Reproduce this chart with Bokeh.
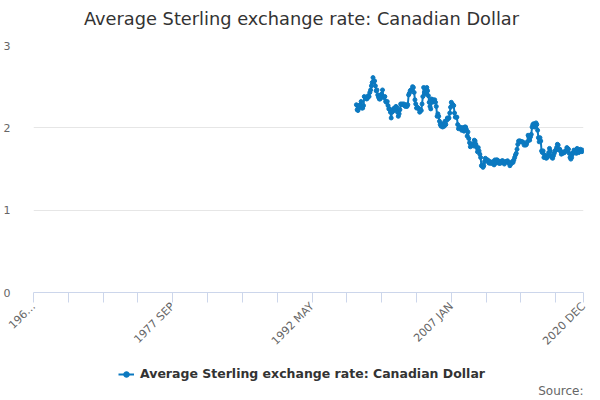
import math
from bokeh.plotting import figure
from bokeh.layouts import column
from bokeh.models import Range1d, FixedTicker, Legend, LegendItem, Label, ColumnDataSource
from bokeh.embed import file_html
from bokeh.resources import INLINE

# ---------------- data ----------------
month_names = ["JAN", "FEB", "MAR", "APR", "MAY", "JUN",
               "JUL", "AUG", "SEP", "OCT", "NOV", "DEC"]
categories = [f"{y} {m}" for y in range(1963, 2021) for m in month_names]

series_name = "Average Sterling exchange rate: Canadian Dollar"
chart_title = "Average Sterling exchange rate: Canadian Dollar"
series_start = "1997 JAN"

r1997 = [2.28, 2.22, 2.21, 2.27, 2.25, 2.28, 2.32, 2.24, 2.24, 2.27, 2.38, 2.37]
r1998 = [2.36, 2.35, 2.36, 2.39, 2.38, 2.43, 2.46, 2.51, 2.55, 2.61, 2.56, 2.57]
r1999 = [2.51, 2.45, 2.46, 2.40, 2.37, 2.35, 2.35, 2.40, 2.41, 2.46, 2.37, 2.37]
r2000 = [2.38, 2.32, 2.31, 2.32, 2.27, 2.23, 2.23, 2.19, 2.12, 2.19, 2.20, 2.23]
r2001 = [2.24, 2.22, 2.26, 2.25, 2.19, 2.14, 2.17, 2.22, 2.29, 2.28, 2.29, 2.28]
r2002 = [2.29, 2.27, 2.26, 2.28, 2.26, 2.28, 2.40, 2.42, 2.45, 2.46, 2.46, 2.50]
r2003 = [2.49, 2.43, 2.34, 2.29, 2.24, 2.25, 2.24, 2.23, 2.19, 2.22, 2.21, 2.29]
r2004 = [2.38, 2.49, 2.43, 2.41, 2.47, 2.49, 2.45, 2.39, 2.31, 2.26, 2.23, 2.35]
r2005 = [2.31, 2.34, 2.33, 2.34, 2.31, 2.26, 2.14, 2.17, 2.14, 2.08, 2.04, 2.02]
r2006 = [2.05, 2.01, 2.03, 2.02, 2.08, 2.04, 2.09, 2.12, 2.11, 2.12, 2.18, 2.25]
r2007 = [2.31, 2.29, 2.28, 2.27, 2.18, 2.13, 2.13, 2.13, 2.04, 1.99, 2.01, 2.01]
r2008 = [1.99, 1.97, 2.00, 2.00, 1.96, 2.01, 2.01, 1.98, 1.90, 1.95, 1.87, 1.82]
r2009 = [1.77, 1.80, 1.79, 1.80, 1.78, 1.85, 1.84, 1.80, 1.76, 1.71, 1.76, 1.72]
r2010 = [1.68, 1.64, 1.54, 1.55, 1.52, 1.54, 1.59, 1.63, 1.61, 1.61, 1.61, 1.58]
r2011 = [1.57, 1.59, 1.57, 1.57, 1.58, 1.59, 1.55, 1.61, 1.57, 1.61, 1.61, 1.60]
r2012 = [1.57, 1.57, 1.57, 1.59, 1.60, 1.60, 1.58, 1.56, 1.58, 1.59, 1.59, 1.60]
r2013 = [1.58, 1.57, 1.54, 1.56, 1.57, 1.59, 1.58, 1.61, 1.64, 1.67, 1.69, 1.74]
r2014 = [1.80, 1.84, 1.84, 1.84, 1.83, 1.83, 1.83, 1.82, 1.79, 1.80, 1.79, 1.80]
r2015 = [1.83, 1.91, 1.89, 1.85, 1.89, 1.92, 2.01, 2.04, 2.05, 2.01, 2.02, 2.06]
r2016 = [2.04, 1.97, 1.88, 1.83, 1.88, 1.84, 1.72, 1.70, 1.72, 1.64, 1.67, 1.66]
r2017 = [1.63, 1.64, 1.66, 1.70, 1.75, 1.72, 1.66, 1.64, 1.63, 1.66, 1.69, 1.72]
r2018 = [1.73, 1.76, 1.80, 1.79, 1.73, 1.74, 1.72, 1.68, 1.70, 1.69, 1.70, 1.70]
r2019 = [1.72, 1.72, 1.76, 1.75, 1.74, 1.69, 1.64, 1.62, 1.64, 1.68, 1.70, 1.73]
r2020 = [1.71, 1.72, 1.69, 1.75, 1.71, 1.70, 1.71, 1.74, 1.72, 1.71, 1.73, 1.72]

rates = (r1997 + r1998 + r1999 + r2000 + r2001 + r2002 + r2003 + r2004 +
         r2005 + r2006 + r2007 + r2008 + r2009 + r2010 + r2011 + r2012 +
         r2013 + r2014 + r2015 + r2016 + r2017 + r2018 + r2019 + r2020)

tick_step = 44
tick_labels = ["196\u2026", "1977 SEP", "1992 MAY", "2007 JAN", "2020 DEC"]
y_ticks = [0, 1, 2, 3]
source_text = "Source:"

# ---------------- build ----------------
first = categories.index(series_start)
xs = [first + i for i in range(len(rates))]
src = ColumnDataSource(dict(x=xs, y=rates, month=categories[first:first + len(rates)]))

last = len(categories) - 1
ticks = list(range(0, last, tick_step)) + [last]
overrides = {t: "" for t in ticks}
label_pos = [categories.index(l) if l in categories else 0 for l in tick_labels]
for pos, lab in zip(label_pos, tick_labels):
    overrides[pos] = lab

FONT = "DejaVu Sans"
BLUE = "#0b79c0"


def strip(height):
    s = figure(width=600, height=height, output_backend="svg", toolbar_location=None,
               x_range=Range1d(0, 551), y_range=Range1d(0, height),
               x_axis_location=None, y_axis_location=None,
               min_border_left=32, min_border_right=17, min_border_top=0,
               min_border_bottom=0)
    s.outline_line_color = None
    s.xgrid.visible = False
    s.ygrid.visible = False
    s.background_fill_color = "white"
    s.border_fill_color = "white"
    return s


# ---- header strip: title ----
h = strip(37)
h.add_layout(Label(x=268, y=19, x_units="screen", y_units="screen",
                   text=chart_title, text_align="center", text_baseline="middle",
                   text_font=FONT, text_font_size="17.8px", text_color="#333333"))

# ---- main chart ----
p = figure(width=600, height=318, output_backend="svg", toolbar_location=None,
           x_range=Range1d(0, last), y_range=Range1d(0, 3),
           min_border_left=32, min_border_right=17, min_border_top=8,
           min_border_bottom=63)
p.outline_line_color = None
p.background_fill_color = "white"
p.border_fill_color = "white"

xa = p.xaxis[0]
xa.ticker = FixedTicker(ticks=ticks, minor_ticks=[])
xa.major_label_overrides = overrides
xa.major_label_orientation = math.pi / 4
xa.axis_line_color = "#ccd6eb"
xa.major_tick_line_color = "#ccd6eb"
xa.major_tick_out = 10
xa.major_tick_in = 0
xa.minor_tick_line_color = None
xa.major_label_text_font = FONT
xa.major_label_text_font_size = "11px"
xa.major_label_text_color = "#666666"
xa.major_label_standoff = 2

ya = p.yaxis[0]
ya.ticker = FixedTicker(ticks=y_ticks, minor_ticks=[])
ya.axis_line_color = None
ya.major_tick_line_color = None
ya.minor_tick_line_color = None
ya.major_label_text_font = FONT
ya.major_label_text_font_size = "11px"
ya.major_label_text_color = "#666666"
ya.major_label_standoff = 17

p.xgrid.grid_line_color = None
p.ygrid.ticker = FixedTicker(ticks=[1, 2, 3])
p.ygrid.grid_line_color = "#e6e6e6"

line_r = p.line("x", "y", source=src, line_color=BLUE, line_width=2)
dot_r = p.scatter("x", "y", source=src, marker="circle", size=4,
                  fill_color=BLUE, line_color=BLUE)

# ---- footer strip: legend and source ----
f = strip(45)
leg_line = f.line(x=[-1000, -999], y=[-1000, -1000], line_color=BLUE, line_width=2)
leg_dot = f.scatter(x=[-1000], y=[-1000], marker="circle", size=4,
                    fill_color=BLUE, line_color=BLUE)

legend = Legend(items=[LegendItem(label=series_name, renderers=[leg_line, leg_dot])],
                location=(85, 19), orientation="horizontal",
                padding=0, margin=0, spacing=0,
                glyph_width=16, glyph_height=14, label_standoff=6,
                border_line_color=None, background_fill_alpha=0)
legend.label_text_font = FONT
legend.label_text_font_size = "12.5px"
legend.label_text_font_style = "bold"
legend.label_text_color = "#333333"
f.add_layout(legend, "center")

f.add_layout(Label(x=550, y=10, x_units="screen", y_units="screen",
                   text=source_text, text_align="right", text_baseline="middle",
                   text_font=FONT, text_font_size="12px", text_color="#666666"))

layout = column(h, p, f, spacing=0)
open("out.html", "w").write(file_html(layout, INLINE))
